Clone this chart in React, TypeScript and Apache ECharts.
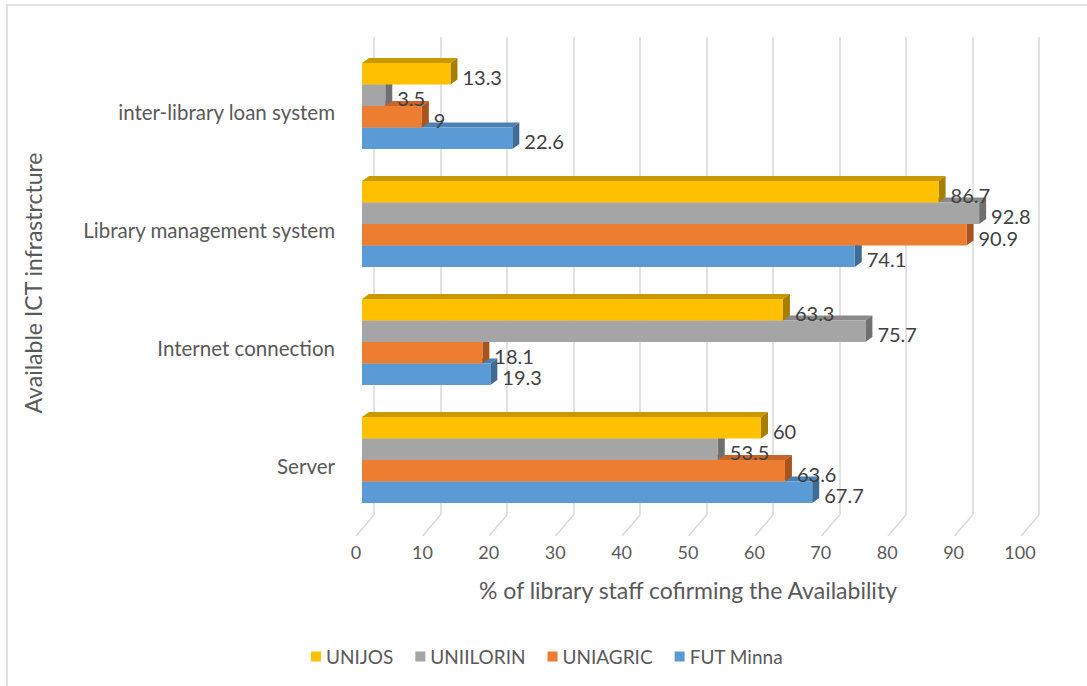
import React, { useEffect, useRef } from "react";
import * as echarts from "echarts";

const categories = ["Server", "Internet connection", "Library management system", "inter-library loan system"];
const seriesNames = ["UNIJOS", "UNIILORIN", "UNIAGRIC", "FUT Minna"];
const unijos = [60, 63.3, 86.7, 13.3];
const uniilorin = [53.5, 75.7, 92.8, 3.5];
const uniagric = [63.6, 18.1, 90.9, 9];
const futMinna = [67.7, 19.3, 74.1, 22.6];
const xTicks = [0, 10, 20, 30, 40, 50, 60, 70, 80, 90, 100];

const COLORS: Record<string, { front: string; top: string; side: string }> = {
  UNIJOS: { front: "#FFC000", top: "#C99A00", side: "#A67F00" },
  UNIILORIN: { front: "#A5A5A5", top: "#8A8A8A", side: "#707070" },
  UNIAGRIC: { front: "#ED7D31", top: "#C8662A", side: "#A9541F" },
  "FUT Minna": { front: "#5B9BD5", top: "#4A80B3", side: "#3E6C96" },
};

const FONT = "Lato";

export default function App() {
  const ref = useRef<HTMLDivElement>(null);
  useEffect(() => {
    if (!ref.current) return;
    const chart = echarts.init(ref.current, undefined, { renderer: "svg" });

    const makeBarSeries = (name: string, values: number[], slot: number) => ({
      type: "custom",
      name,
      xAxisIndex: 0,
      yAxisIndex: 0,
      data: values.map((v, i) => [v, i]),
      renderItem: (params: any, api: any) => {
        const v = api.value(0);
        const c = api.value(1);
        const s = api.coord([0, c]);
        const e = api.coord([v, c]);
        const band = api.size([0, 1])[1];
        const h = band * 0.182;
        const top = s[1] - h * 2 + slot * h;
        const x0 = s[0];
        const x1 = e[0];
        const dx = 7;
        const dy = 5;
        const col = COLORS[name];
        return {
          type: "group",
          children: [
            {
              type: "polygon",
              shape: { points: [[x0, top], [x0 + dx, top - dy], [x1 + dx, top - dy], [x1, top]] },
              style: { fill: col.top },
            },
            {
              type: "polygon",
              shape: { points: [[x1, top], [x1 + dx, top - dy], [x1 + dx, top + h - dy], [x1, top + h]] },
              style: { fill: col.side },
            },
            {
              type: "rect",
              shape: { x: x0, y: top, width: x1 - x0, height: h },
              style: { fill: col.front },
            },
            {
              type: "text",
              z2: 100,
              x: x1 + 12,
              y: top + h / 2 + 3,
              style: {
                text: String(v),
                fill: "#404040",
                font: `20px ${FONT}`,
                lineHeight: 18,
                align: "left",
                verticalAlign: "middle",
              },
            },
          ],
        };
      },
    });

    const option: any = {
      animation: false,
      backgroundColor: "#ffffff",
      textStyle: { fontFamily: FONT },
      graphic: [
        {
          type: "rect",
          shape: { x: 7, y: 5, width: 1120, height: 720 },
          style: { fill: "none", stroke: "#d9d9d9", lineWidth: 1.5 },
          silent: true,
        },
      ],
      legend: {
        left: 306,
        top: 642,
        itemWidth: 10,
        itemHeight: 10,
        itemGap: 22,
        icon: "rect",
        textStyle: { color: "#595959", fontSize: 19, fontFamily: FONT },
        data: seriesNames.map((n) => ({ name: n, itemStyle: { color: COLORS[n].front } })),
      },
      grid: [
        { left: 362, width: 665, top: 47, height: 472 },
        { left: 374, width: 665, top: 37, height: 478 },
        { left: 356, width: 664, top: 37, height: 499 },
      ],
      xAxis: [
        { gridIndex: 0, type: "value", min: 0, max: 100, show: false },
        {
          gridIndex: 1,
          type: "value",
          min: 0,
          max: 100,
          interval: 10,
          axisLine: { show: false },
          axisTick: { show: false },
          axisLabel: { show: false },
          splitLine: { show: true, lineStyle: { color: "#d9d9d9", width: 1.5 } },
        },
        {
          gridIndex: 2,
          type: "value",
          min: 0,
          max: 100,
          interval: 10,
          axisLine: { show: false },
          axisTick: { show: false },
          splitLine: { show: false },
          axisLabel: {
            margin: 7,
            color: "#595959",
            fontSize: 18,
            fontFamily: FONT,
            formatter: (v: number) => (xTicks.includes(v) ? String(v) : ""),
          },
          name: "% of library staff cofirming the Availability",
          nameLocation: "middle",
          nameGap: 42,
          nameTextStyle: { color: "#595959", fontSize: 23, fontFamily: FONT },
        },
      ],
      yAxis: [
        {
          gridIndex: 0,
          type: "category",
          data: categories,
          axisLine: { show: false },
          axisTick: { show: false },
          splitLine: { show: false },
          axisLabel: {
            margin: 27,
            color: "#595959",
            fontSize: 20.5,
            fontFamily: FONT,
            verticalAlign: "top",
            lineHeight: 12,
          },
          name: "Available ICT infrastrcture",
          nameLocation: "middle",
          nameGap: 318,
          nameTextStyle: { color: "#595959", fontSize: 23, fontFamily: FONT },
        },
        { gridIndex: 1, type: "value", min: 0, max: 1, show: false },
        { gridIndex: 2, type: "value", min: 0, max: 1, show: false },
      ],
      series: [
        {
          type: "custom",
          name: "floor",
          xAxisIndex: 1,
          yAxisIndex: 1,
          silent: true,
          data: xTicks.map((t) => [t, 0]),
          renderItem: (params: any, api: any) => {
            const p = api.coord([api.value(0), 0]);
            return {
              type: "line",
              shape: { x1: p[0], y1: p[1], x2: p[0] - 18, y2: p[1] + 21 },
              style: { stroke: "#d9d9d9", lineWidth: 1.5 },
            };
          },
        },
        makeBarSeries("FUT Minna", futMinna, 3),
        makeBarSeries("UNIAGRIC", uniagric, 2),
        makeBarSeries("UNIILORIN", uniilorin, 1),
        makeBarSeries("UNIJOS", unijos, 0),
      ],
    };
    chart.setOption(option);
    return () => chart.dispose();
  }, []);
  return (
    <div
      ref={ref}
      style={{ position: "absolute", left: 0, top: 0, width: 1087, height: 686 }}
    />
  );
}
